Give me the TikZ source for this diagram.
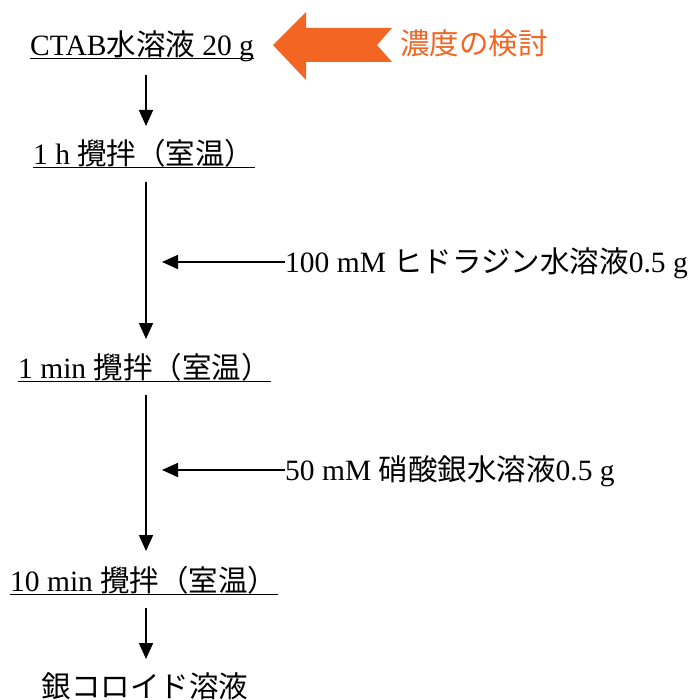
\documentclass[tikz,border=0pt]{standalone}
\usepackage{fontspec}
\setmainfont{Liberation Serif}
\newfontfamily\jp{Noto Sans CJK JP}
\usetikzlibrary{arrows.meta}
\definecolor{orng}{HTML}{F26522}
\tikzset{
  lbl/.style={inner sep=0pt, anchor=base west, font=\fontsize{29.5}{33}\selectfont},
  flow/.style={line width=1.8pt, -{Triangle[length=16pt,width=14pt]}},
  uline/.style={line width=1pt},
}
\begin{document}
\begin{tikzpicture}[x=1pt,y=-1pt]
\useasboundingbox (0,0) rectangle (694,700);
% step labels
\node[lbl] (ctab) at (30,56) {CTAB{\jp 水溶液} 20 g};
\node[lbl] (s1) at (33,165) {1 h {\jp 攪拌（室温）}};
\node[lbl] (s2) at (18,378) {1 min {\jp 攪拌（室温）}};
\node[lbl] (s3) at (10,591) {10 min {\jp 攪拌（室温）}};
\node[lbl, anchor=center] (fin) at (145,686) {\jp 銀コロイド溶液};
\node[lbl] (add1) at (285,272) {100 mM {\jp ヒドラジン水溶液}0.5 g};
\node[lbl] (add2) at (285,480) {50 mM {\jp 硝酸銀水溶液}0.5 g};
\node[lbl, text=orng] (conc) at (400,55) {\jp 濃度の検討};
% underlines
\foreach \n in {ctab,s1,s2,s3}
  \draw[uline] ([yshift=-3pt]\n.base west) -- ([yshift=-3pt]\n.base east);
% main flow arrows
\coordinate (v1s) at (146,75);  \coordinate (v1e) at (146,126);
\coordinate (v2s) at (146,182); \coordinate (v2e) at (146,339);
\coordinate (v3s) at (146,395); \coordinate (v3e) at (146,551);
\coordinate (v4s) at (146,608); \coordinate (v4e) at (146,659);
\draw[flow] (v1s) -- (v1e);
\draw[flow] (v2s) -- (v2e);
\draw[flow] (v3s) -- (v3e);
\draw[flow] (v4s) -- (v4e);
% side additions
\coordinate (h1) at (162,262);
\coordinate (h2) at (162,470);
\draw[flow] (add1.west |- h1) -- (h1);
\draw[flow] (add2.west |- h2) -- (h2);
% orange block arrow
\fill[orng] (273,45) -- (306,12) -- (306,28) -- (392,28) -- (377,45)
  -- (392,62) -- (306,62) -- (306,80) -- cycle;
\end{tikzpicture}
\end{document}
